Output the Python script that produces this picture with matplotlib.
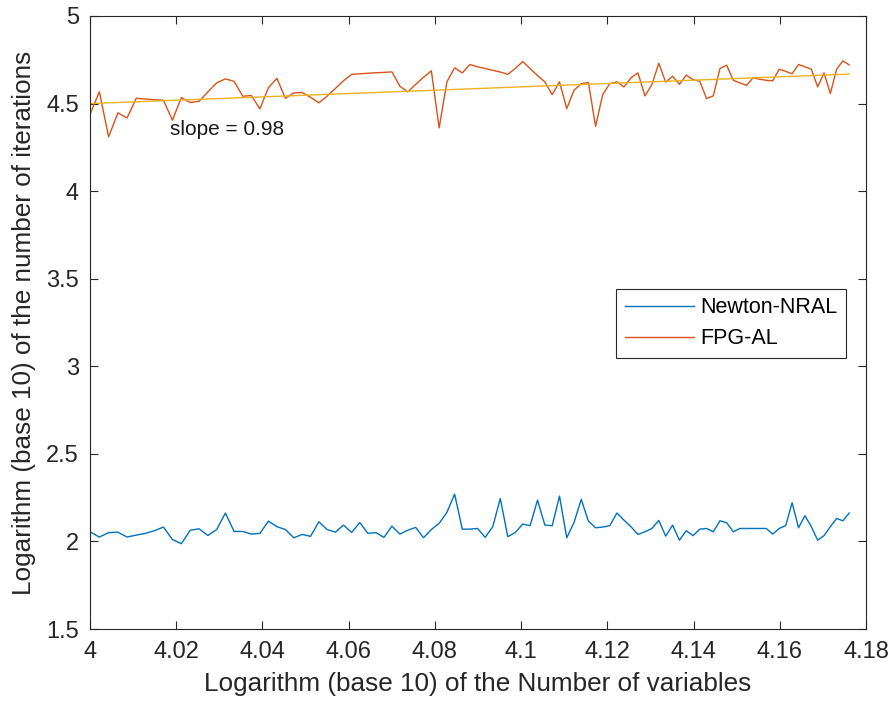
import numpy as np
import matplotlib
matplotlib.use("Agg")
import matplotlib.pyplot as plt
from matplotlib.ticker import FuncFormatter

# Number of variables (n = 10000 ... 15000 in steps of 50)
num_variables = np.arange(10000, 15001, 50)
log_n = np.log10(num_variables)

# log10 of the number of iterations, Newton-NRAL
newton_nral = [
    2.055, 2.025, 2.050, 2.053, 2.025, 2.036, 2.046, 2.061, 2.082, 2.011,
    1.987, 2.064, 2.072, 2.034, 2.068, 2.162, 2.057, 2.057, 2.042, 2.046,
    2.116, 2.084, 2.068, 2.021, 2.040, 2.029, 2.112, 2.068, 2.053, 2.093,
    2.051, 2.108, 2.046, 2.050, 2.023, 2.087, 2.042, 2.064, 2.080, 2.021,
    2.068, 2.103, 2.166, 2.270, 2.070, 2.070, 2.074, 2.023, 2.084, 2.245,
    2.027, 2.051, 2.099, 2.090, 2.236, 2.093, 2.090, 2.259, 2.021, 2.108,
    2.240, 2.116, 2.078, 2.082, 2.090, 2.162, 2.122, 2.084, 2.040, 2.055,
    2.074, 2.120, 2.030, 2.093, 2.007, 2.061, 2.033, 2.070, 2.074, 2.055,
    2.118, 2.107, 2.055, 2.074, 2.074, 2.074, 2.074, 2.074, 2.042, 2.074,
    2.090, 2.221, 2.078, 2.147, 2.084, 2.007, 2.033, 2.084, 2.131, 2.118,
    2.162,
]

# log10 of the number of iterations, FPG-AL
fpg_al = [
    4.439, 4.567, 4.310, 4.447, 4.418, 4.530, 4.526, 4.522, 4.519, 4.405,
    4.534, 4.506, 4.513, 4.567, 4.618, 4.641, 4.627, 4.542, 4.546, 4.470,
    4.591, 4.644, 4.530, 4.561, 4.563, 4.536, 4.504, 4.542, 4.586, 4.630,
    4.667, 4.670, 4.673, 4.676, 4.678, 4.681, 4.599, 4.567, 4.610, 4.650,
    4.687, 4.361, 4.624, 4.704, 4.675, 4.723, 4.710, 4.700, 4.690, 4.680,
    4.667, 4.700, 4.740, 4.700, 4.660, 4.624, 4.551, 4.624, 4.471, 4.576,
    4.614, 4.620, 4.370, 4.551, 4.614, 4.624, 4.595, 4.647, 4.675, 4.544,
    4.608, 4.730, 4.622, 4.656, 4.610, 4.662, 4.637, 4.627, 4.529, 4.544,
    4.700, 4.719, 4.633, 4.618, 4.604, 4.647, 4.639, 4.633, 4.630, 4.696,
    4.684, 4.670, 4.723, 4.710, 4.696, 4.595, 4.675, 4.557, 4.696, 4.744,
    4.721,
]

# fitted trend line (value at first and last data point)
fit_ends = [4.500, 4.668]

slope_label = "slope = 0.98"
x_ticks = [4, 4.02, 4.04, 4.06, 4.08, 4.1, 4.12, 4.14, 4.16, 4.18]
y_ticks = [1.5, 2, 2.5, 3, 3.5, 4, 4.5, 5]

plt.rcParams['font.family'] = ['Liberation Sans', 'DejaVu Sans']

fig = plt.figure(figsize=(8.9, 7.04), dpi=100)
ax = fig.add_axes([90 / 890, 1 - 629 / 704, 776 / 890, 613 / 704])

blue = '#0072BD'
red = '#D95319'
orange = '#EDB120'

ax.plot(log_n, newton_nral, color=blue, lw=1.0, label='Newton-NRAL')
ax.plot(log_n, fpg_al, color=red, lw=1.0, label='FPG-AL')
ax.plot([log_n[0], log_n[-1]], fit_ends, color=orange, lw=1.0)

ax.text(4.0186, 4.35, slope_label, fontsize=15, va='center', ha='left',
        color='#1a1a1a')

ax.set_xlim(4, 4.18)
ax.set_ylim(1.5, 5)
ax.set_xticks(x_ticks)
ax.set_yticks(y_ticks)
fmt = FuncFormatter(lambda v, p: f"{v:g}")
ax.xaxis.set_major_formatter(fmt)
ax.yaxis.set_major_formatter(fmt)

ax.tick_params(direction='in', length=6, width=0.8, color='#262626',
               labelsize=17, labelcolor='#262626', top=True, right=True)
ax.tick_params(axis='x', pad=9)
ax.tick_params(axis='y', pad=8)
for s in ax.spines.values():
    s.set_color('#262626')
    s.set_linewidth(0.8)

ax.set_xlabel('Logarithm (base 10) of the Number of variables', fontsize=18.8,
              color='#262626', labelpad=6)
ax.set_ylabel('Logarithm (base 10) of the number of iterations', fontsize=18.8,
              color='#262626', labelpad=7)

leg = ax.legend(loc='upper right', bbox_to_anchor=(0.974, 0.555),
                borderaxespad=0, fontsize=15.5, fancybox=False, framealpha=1,
                edgecolor='#262626', handlelength=3.2, handletextpad=0.3,
                borderpad=0.4, labelspacing=0.45)
leg.get_frame().set_linewidth(0.8)

fig.savefig('out.png', dpi=100)
